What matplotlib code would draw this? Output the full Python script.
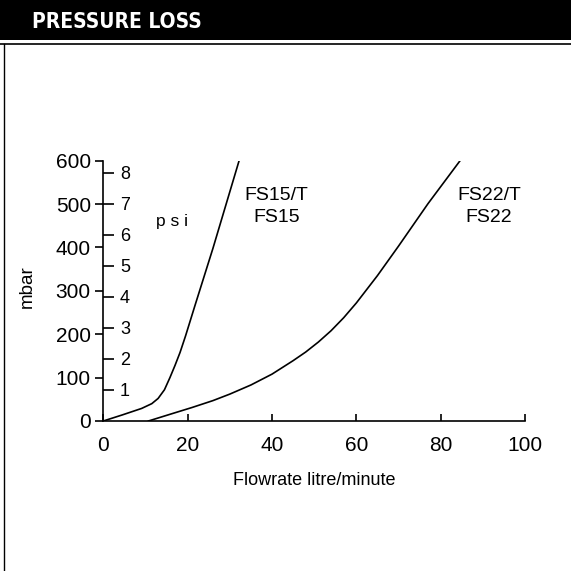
import matplotlib
matplotlib.use("Agg")
import matplotlib.pyplot as plt
from matplotlib.patches import Rectangle
from matplotlib.lines import Line2D

plt.rcParams["font.family"] = ["Liberation Sans", "DejaVu Sans"]

# pressure loss curves (flow in l/min, loss in mbar)
fs15_flow = [0, 4.5, 9.1, 11.5, 13.0, 14.5, 15.8, 17.0, 18.2, 19.5, 21.7, 26.0, 32.2]
fs15_mbar = [0, 14, 29, 40, 52, 72, 100, 128, 158, 196, 265, 398, 600]

fs22_flow = [10.7, 16.0, 21.0, 26.0, 30.0, 35.0, 40.0, 45.0, 48.0, 51.0,
             54.0, 57.0, 60.0, 65.0, 70.0, 77.0, 84.6]
fs22_mbar = [0, 16, 31, 47, 62, 83, 108, 139, 159, 182,
             208, 238, 272, 335, 403, 501, 600]

mbar_ticks = [0, 100, 200, 300, 400, 500, 600]
flow_ticks = [0, 20, 40, 60, 80, 100]
psi_ticks = [1, 2, 3, 4, 5, 6, 7, 8]
MBAR_PER_PSI = 71.5  # spacing of the psi scale as printed

W = 571
fig = plt.figure(figsize=(W / 100, W / 100), dpi=100)

# header band
fig.patches.append(Rectangle((0, 531 / W), 1, 40 / W, transform=fig.transFigure,
                             facecolor="black", edgecolor="none"))
fig.text(32 / W, 1 - 22 / W, "PRESSURE LOSS", color="white", fontsize=15,
         fontweight="bold", fontstretch="condensed", family="DejaVu Sans",
         ha="left", va="center")
fig.lines.append(Line2D([0, 1], [1 - 44 / W] * 2, transform=fig.transFigure,
                        color="black", lw=1.2))
fig.lines.append(Line2D([4 / W] * 2, [0, 1 - 44 / W], transform=fig.transFigure,
                        color="black", lw=1.0))

ax = fig.add_axes([103.3 / W, 1 - 421 / W, (525 - 103.3) / W, (421 - 160.7) / W])
ax.plot(fs15_flow, fs15_mbar, color="black", lw=1.2)
ax.plot(fs22_flow, fs22_mbar, color="black", lw=1.2)

ax.set_xlim(0, 100)
ax.set_ylim(0, 600)
ax.set_xticks(flow_ticks)
ax.set_yticks(mbar_ticks)
ax.spines[["top", "right"]].set_visible(False)
for s in ("left", "bottom"):
    ax.spines[s].set_linewidth(1.2)
ax.tick_params(axis="x", direction="in", length=5, width=1.2, pad=11, labelsize=15)
ax.tick_params(axis="y", direction="out", length=6, width=1.2, pad=3, labelsize=15)

# psi scale, ticks on the inner side of the mbar axis
ax2 = ax.twinx()
ax2.set_ylim(0, 600)
ax2.spines[["top", "left", "bottom", "right"]].set_visible(False)
ax2.spines["right"].set_position(("axes", 0))
ax2.set_yticks([p * MBAR_PER_PSI for p in psi_ticks])
ax2.set_yticklabels([str(p) for p in psi_ticks])
ax2.tick_params(axis="y", direction="out", length=8, width=1.2, pad=4, labelsize=13)

ax.text(16.3, 459, "p s i", fontsize=12.5, ha="center", va="center")
ax.text(41.0, 494, "FS15/T\nFS15", fontsize=14, ha="center", va="center",
        multialignment="center", linespacing=1.4)
ax.text(91.5, 494, "FS22/T\nFS22", fontsize=14, ha="center", va="center",
        multialignment="center", linespacing=1.4)

ax.set_xlabel("Flowrate litre/minute", fontsize=13, labelpad=12)
fig.text(27 / W, 1 - 287 / W, "mbar", fontsize=13.5, rotation=90,
         ha="center", va="center")

fig.savefig("out.png", dpi=100, facecolor="white")
